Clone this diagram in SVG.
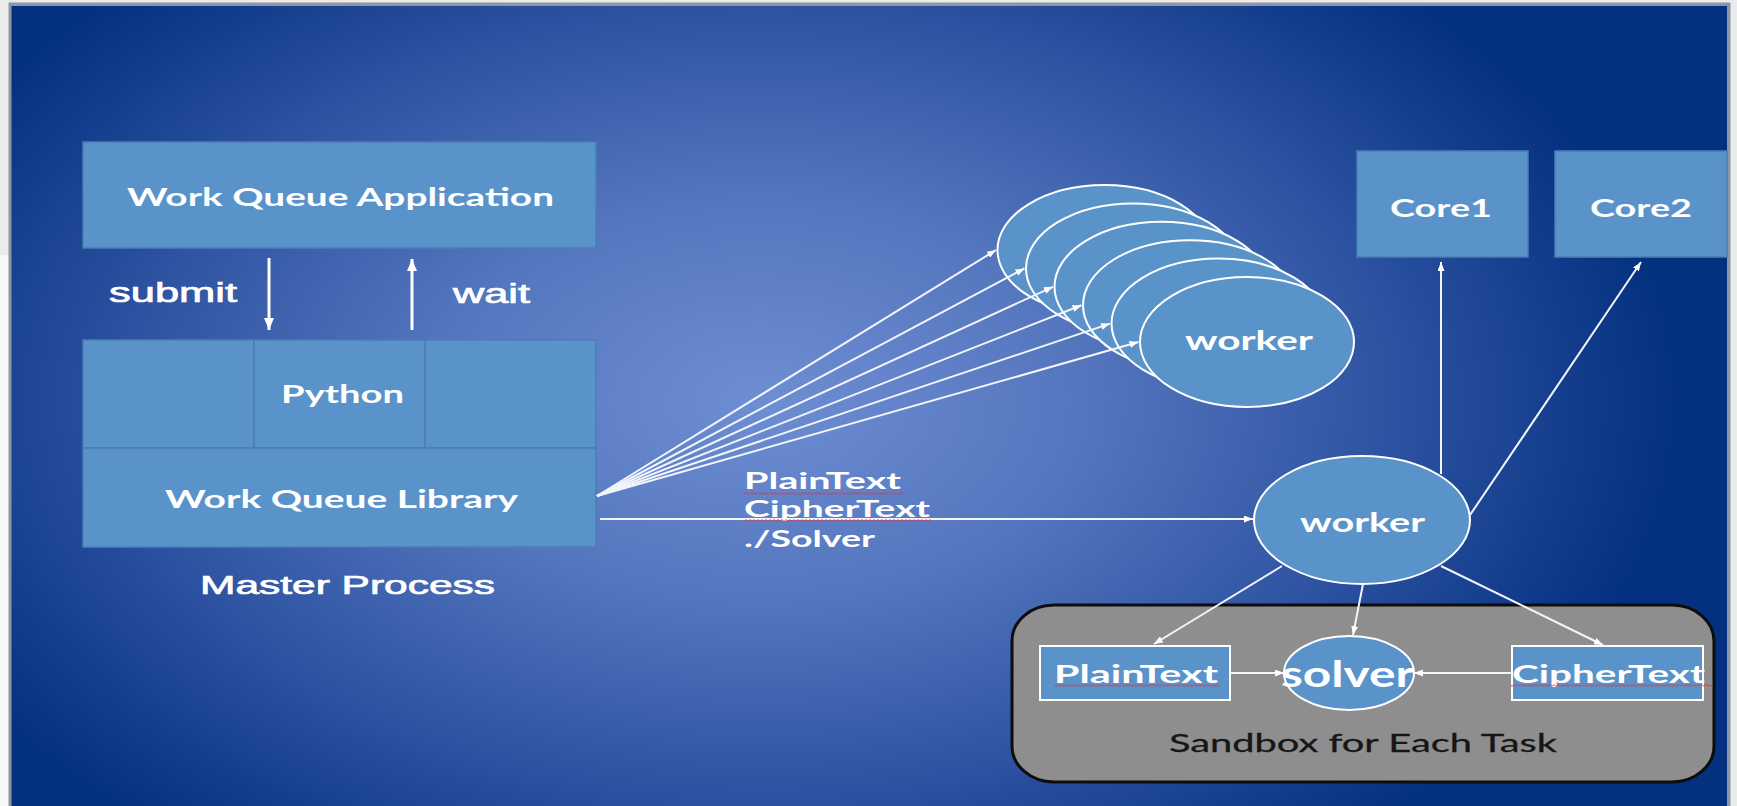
<svg xmlns="http://www.w3.org/2000/svg" width="1737" height="806" viewBox="0 0 1737 806">
  <defs>
    <radialGradient id="bg" gradientUnits="userSpaceOnUse" cx="760" cy="400" r="920" gradientTransform="translate(760 400) scale(1 0.62) translate(-760 -400)">
      <stop offset="0" stop-color="#6e8ed3"/>
      <stop offset="0.35" stop-color="#5476be"/>
      <stop offset="0.7" stop-color="#2b51a0"/>
      <stop offset="1" stop-color="#03307f"/>
    </radialGradient>
    <marker id="ah" markerUnits="userSpaceOnUse" markerWidth="9" markerHeight="7" refX="9" refY="3.5" orient="auto">
      <path d="M0,0 L9,3.5 L0,7 z" fill="#ffffff"/>
    </marker>
    <marker id="ahBig" markerUnits="userSpaceOnUse" markerWidth="12" markerHeight="10" refX="12" refY="5" orient="auto">
      <path d="M0,0 L12,5 L0,10 z" fill="#ffffff"/>
    </marker>
    <pattern id="squiggle" patternUnits="userSpaceOnUse" x="0" y="0" width="4" height="3">
      <path d="M0,2.4 L2,0.6 L4,2.4" fill="none" stroke="#e0343c" stroke-width="0.9"/>
    </pattern>
    <style>
      .box { fill: #5a93ca; stroke: #4a7fb5; stroke-width: 1.5; }
      .node-ell { fill: #5a93ca; stroke: #ffffff; stroke-width: 2; }
      .wbox { fill: #5a93ca; stroke: #ffffff; stroke-width: 2; }
      .lbl { font-family: Lato, "Liberation Sans", sans-serif; font-weight: bold; fill: #ffffff; }
      .arial { font-family: "Liberation Sans", Arial, sans-serif; fill: #ffffff; stroke: #ffffff; stroke-width: 0.7; }
      .dark { font-family: Lato, "Liberation Sans", sans-serif; fill: #161616; stroke: #161616; stroke-width: 0.3; }
      .conn { fill: none; stroke: #f2f5fb; stroke-width: 2; }
      .connBig { fill: none; stroke: #ffffff; stroke-width: 3; }
    </style>
  </defs>

  <!-- page background and frame -->
  <rect x="0" y="0" width="1737" height="806" fill="#ebebeb"/>
  <rect x="0" y="255" width="9" height="551" fill="#f7f7f7"/>
  <rect x="8.5" y="2.5" width="1722" height="810" fill="#8d96a3"/>
  <rect x="11.5" y="6" width="1715.5" height="800" fill="url(#bg)"/>

  <!-- Master process -->
  <g id="wq-application">
    <rect class="box" x="83" y="142" width="513" height="106"/>
    <text class="lbl" x="127" y="206" font-size="25" textLength="427" lengthAdjust="spacingAndGlyphs">Work Queue Application</text>
  </g>
  <g id="python-left">
    <rect class="box" x="83" y="340" width="171" height="108"/>
  </g>
  <g id="python">
    <rect class="box" x="254" y="340" width="171" height="108"/>
    <text class="lbl" x="281" y="403" font-size="24" textLength="123" lengthAdjust="spacingAndGlyphs">Python</text>
  </g>
  <g id="python-right">
    <rect class="box" x="425" y="340" width="171" height="108"/>
  </g>
  <g id="wq-library">
    <rect class="box" x="83" y="448" width="513" height="99"/>
    <text class="lbl" x="165" y="508" font-size="24" textLength="353" lengthAdjust="spacingAndGlyphs">Work Queue Library</text>
  </g>
  <g id="master-label">
    <text class="arial" x="200" y="594" font-size="26" textLength="295" lengthAdjust="spacingAndGlyphs">Master Process</text>
  </g>

  <!-- worker pool -->
  <g id="worker-pool-1"><ellipse class="node-ell" cx="1104.5" cy="250" rx="107" ry="65"/></g>
  <g id="worker-pool-2"><ellipse class="node-ell" cx="1133" cy="268.4" rx="107" ry="65"/></g>
  <g id="worker-pool-3"><ellipse class="node-ell" cx="1161.5" cy="286.8" rx="107" ry="65"/></g>
  <g id="worker-pool-4"><ellipse class="node-ell" cx="1190" cy="305.2" rx="107" ry="65"/></g>
  <g id="worker-pool-5"><ellipse class="node-ell" cx="1218.5" cy="323.6" rx="107" ry="65"/></g>
  <g id="worker-pool-6">
    <ellipse class="node-ell" cx="1247" cy="342" rx="107" ry="65"/>
    <text class="lbl" x="1185" y="350" font-size="27" textLength="128" lengthAdjust="spacingAndGlyphs">worker</text>
  </g>

  <!-- cores -->
  <g id="core1">
    <rect class="box" x="1357" y="151" width="171" height="106"/>
    <text class="lbl" x="1390" y="217" font-size="25" textLength="102" lengthAdjust="spacingAndGlyphs">Core1</text>
  </g>
  <g id="core2">
    <rect class="box" x="1555" y="151" width="172" height="106"/>
    <text class="lbl" x="1590" y="217" font-size="25" textLength="102" lengthAdjust="spacingAndGlyphs">Core2</text>
  </g>

  <!-- sandbox -->
  <g id="sandbox">
    <rect x="1012" y="605" width="702" height="177" rx="42" ry="36" fill="#8e8e8e" stroke="#0d0d0d" stroke-width="3"/>
    <text class="dark" x="1169" y="752" font-size="25" textLength="388" lengthAdjust="spacingAndGlyphs">Sandbox for Each Task</text>
  </g>

  <!-- main worker -->
  <g id="worker">
    <ellipse class="node-ell" cx="1362" cy="520" rx="108" ry="64"/>
    <text class="lbl" x="1300" y="532" font-size="27" textLength="125" lengthAdjust="spacingAndGlyphs">worker</text>
  </g>

  <g id="plaintext-file">
    <rect class="wbox" x="1040" y="646" width="190" height="54"/>
    <text class="lbl" x="1054" y="683" font-size="25" textLength="164" lengthAdjust="spacingAndGlyphs">PlainText</text>
    <rect x="1054" y="684" width="166" height="3" fill="url(#squiggle)"/>
  </g>
  <g id="ciphertext-file">
    <rect class="wbox" x="1512" y="646" width="191" height="54"/>
    <text class="lbl" x="1512" y="683" font-size="25" textLength="193" lengthAdjust="spacingAndGlyphs">CipherText</text>
    <rect x="1510" y="684" width="203" height="3" fill="url(#squiggle)"/>
  </g>
  <g id="solver">
    <ellipse class="node-ell" cx="1349" cy="673" rx="65" ry="37"/>
    <text class="lbl" x="1281" y="687" font-size="36" textLength="133" lengthAdjust="spacingAndGlyphs">solver</text>
  </g>

  <!-- connectors -->
  <g id="connectors">
    <line class="connBig" x1="269" y1="258" x2="269" y2="330" marker-end="url(#ahBig)"/>
    <line class="connBig" x1="412" y1="330" x2="412" y2="259" marker-end="url(#ahBig)"/>
    <text class="arial" x="109" y="302" font-size="27" textLength="128" lengthAdjust="spacingAndGlyphs">submit</text>
    <text class="arial" x="453" y="303" font-size="27" textLength="77" lengthAdjust="spacingAndGlyphs">wait</text>

    <line class="conn" x1="597" y1="496" x2="996" y2="250" marker-end="url(#ah)"/>
    <line class="conn" x1="597" y1="496" x2="1024.5" y2="268.4" marker-end="url(#ah)"/>
    <line class="conn" x1="597" y1="496" x2="1053" y2="286.8" marker-end="url(#ah)"/>
    <line class="conn" x1="597" y1="496" x2="1081.5" y2="305.2" marker-end="url(#ah)"/>
    <line class="conn" x1="597" y1="496" x2="1110" y2="323.6" marker-end="url(#ah)"/>
    <line class="conn" x1="597" y1="496" x2="1138.5" y2="342" marker-end="url(#ah)"/>

    <line class="conn" x1="600" y1="519" x2="1253" y2="519" marker-end="url(#ah)"/>
    <text class="lbl" x="744" y="489" font-size="23" textLength="157" lengthAdjust="spacingAndGlyphs">PlainText</text>
    <rect x="744" y="492" width="159" height="3" fill="url(#squiggle)"/>
    <text class="lbl" x="744" y="517" font-size="23" textLength="186" lengthAdjust="spacingAndGlyphs">CipherText</text>
    <rect x="744" y="519" width="188" height="3" fill="url(#squiggle)"/>
    <text class="lbl" x="744" y="547" font-size="23" textLength="131" lengthAdjust="spacingAndGlyphs">./Solver</text>

    <line class="conn" x1="1441" y1="474" x2="1441" y2="262" marker-end="url(#ah)"/>
    <line class="conn" x1="1470" y1="515" x2="1641" y2="262" marker-end="url(#ah)"/>

    <line class="conn" x1="1282" y1="566" x2="1154" y2="644" marker-end="url(#ah)"/>
    <line class="conn" x1="1363" y1="584" x2="1353" y2="635" marker-end="url(#ah)"/>
    <line class="conn" x1="1441" y1="566" x2="1603" y2="645" marker-end="url(#ah)"/>

    <line class="conn" x1="1230" y1="673" x2="1284" y2="673" marker-end="url(#ah)"/>
    <line class="conn" x1="1512" y1="673" x2="1414" y2="673" marker-end="url(#ah)"/>
  </g>
</svg>
